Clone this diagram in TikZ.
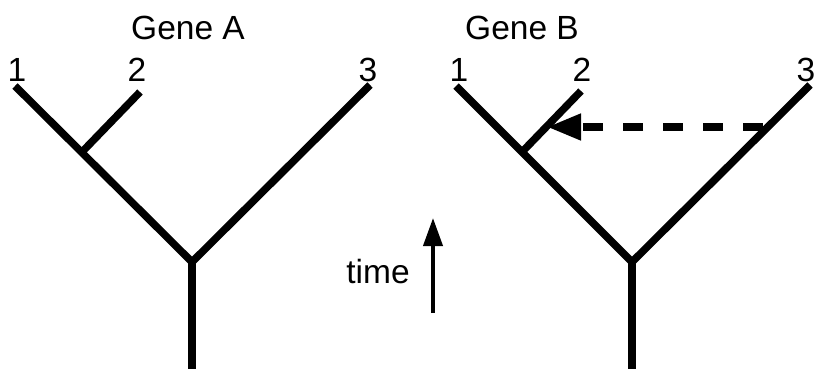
\documentclass[tikz,border=0pt]{standalone}
\usepackage{fontspec}
\setmainfont{Liberation Sans}
\usetikzlibrary{arrows.meta}
\begin{document}
\begin{tikzpicture}[x=1pt,y=-1pt,
  branch/.style={line width=7.5pt,line cap=butt,line join=miter},
  lbl/.style={font=\fontsize{33.5}{38}\selectfont,inner sep=0pt},
  transfer/.style={line width=7.5pt,dash pattern=on 20pt off 20pt,-{Triangle[length=34pt,width=25pt]}},
  timearrow/.style={line width=4pt,-{Triangle[length=28pt,width=19pt]}}]
\useasboundingbox (0,0) rectangle (818,369);
% Gene A
\coordinate (Aroot) at (192,369);
\coordinate (Aj) at (192,262);
\coordinate (A1) at (15,86);
\coordinate (A3) at (370,85);
\coordinate (Ai) at (82,152);
\coordinate (A2) at (140,92);
\draw[branch] (A1) -- (Aj) -- (A3);
\draw[branch] (Aj) -- (Aroot);
\draw[branch] (Ai) -- (A2);
\node[lbl] (gA) at (188,28) {Gene A};
\node[lbl] (lA1) at (17,70) {1};
\node[lbl] (lA2) at (137,70) {2};
\node[lbl] (lA3) at (368,70) {3};
% Gene B
\coordinate (Broot) at (632,369);
\coordinate (Bj) at (632,262);
\coordinate (B1) at (456,86);
\coordinate (B3) at (810,85);
\coordinate (Bi) at (522,152);
\coordinate (B2) at (581,91);
\draw[branch] (B1) -- (Bj) -- (B3);
\draw[branch] (Bj) -- (Broot);
\draw[branch] (Bi) -- (B2);
\node[lbl] (gB) at (522,28) {Gene B};
\node[lbl] (lB1) at (459,70) {1};
\node[lbl] (lB2) at (582,70) {2};
\node[lbl] (lB3) at (806,70) {3};
% transfer
\coordinate (Ts) at (763,127);
\coordinate (Te) at (547,127);
\draw[transfer] (Ts) -- (Te);
% time
\coordinate (t0) at (433,313);
\coordinate (t1) at (433,218);
\draw[timearrow] (t0) -- (t1);
\node[lbl] (time) at (378,272) {time};
\end{tikzpicture}
\end{document}
